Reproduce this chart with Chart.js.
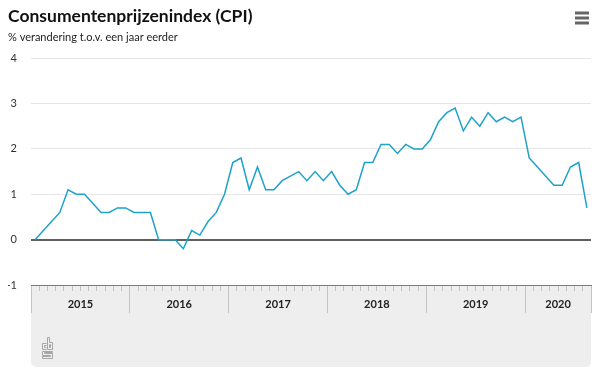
<!DOCTYPE html>
<html>
<head>
<meta charset="utf-8">
<script src="https://cdn.jsdelivr.net/npm/chart.js@4.4.1/dist/chart.umd.min.js"></script>
<style>
    html, body { margin: 0; padding: 0; background: #fff; }
    #wrap { width: 600px; height: 390px; }
</style>
</head>
<body>
<div id="wrap"><canvas id="grafiek" width="600" height="390"></canvas></div>
<script>
const jaren = ['2015', '2016', '2017', '2018', '2019', '2020'];
const maanden = ['jan', 'feb', 'mrt', 'apr', 'mei', 'jun', 'jul', 'aug', 'sep', 'okt', 'nov', 'dec'];

// CPI, % verandering t.o.v. een jaar eerder
const cpi2015 = [0.0, 0.2, 0.4, 0.6, 1.1, 1.0, 1.0, 0.8, 0.6, 0.6, 0.7, 0.7];
const cpi2016 = [0.6, 0.6, 0.6, 0.0, 0.0, 0.0, -0.2, 0.2, 0.1, 0.4, 0.6, 1.0];
const cpi2017 = [1.7, 1.8, 1.1, 1.6, 1.1, 1.1, 1.3, 1.4, 1.5, 1.3, 1.5, 1.3];
const cpi2018 = [1.5, 1.2, 1.0, 1.1, 1.7, 1.7, 2.1, 2.1, 1.9, 2.1, 2.0, 2.0];
const cpi2019 = [2.2, 2.6, 2.8, 2.9, 2.4, 2.7, 2.5, 2.8, 2.6, 2.7, 2.6, 2.7];
const cpi2020 = [1.8, 1.6, 1.4, 1.2, 1.2, 1.6, 1.7, 0.7];

const yTicks = [-1, 0, 1, 2, 3, 4];

const perJaar = [cpi2015, cpi2016, cpi2017, cpi2018, cpi2019, cpi2020];
const etiquetas = [];
const waarden = [];
perJaar.forEach((reeks, j) => {
    reeks.forEach((v, m) => {
        etiquetas.push(maanden[m] + ' ' + jaren[j]);
        waarden.push(v);
    });
});

// grenzen en middens van de jaarbanden (in maanden vanaf jan 2015)
const jaarGrenzen = [];
const jaarMiddens = [];
let start = 0;
perJaar.forEach((reeks) => {
    jaarGrenzen.push(start);
    jaarMiddens.push(start + reeks.length / 2);
    start += reeks.length;
});
jaarGrenzen.push(start);

const fontFam = 'Lato, "Open Sans", sans-serif';

const achtergrond = {
    id: 'achtergrond',
    beforeDraw(chart) {
        const { ctx, chartArea } = chart;
        const x = chartArea.left, y = chartArea.bottom;
        const w = chartArea.right - chartArea.left, h = 82, r = 6;
        ctx.save();
        ctx.fillStyle = '#eeeeee';
        ctx.beginPath();
        ctx.moveTo(x, y);
        ctx.lineTo(x + w, y);
        ctx.lineTo(x + w, y + h - r);
        ctx.quadraticCurveTo(x + w, y + h, x + w - r, y + h);
        ctx.lineTo(x + r, y + h);
        ctx.quadraticCurveTo(x, y + h, x, y + h - r);
        ctx.closePath();
        ctx.fill();
        ctx.restore();
    },
    afterDraw(chart) {
        const { ctx, chartArea } = chart;
        ctx.save();
        // menu-knop
        ctx.strokeStyle = '#666';
        ctx.lineWidth = 3;
        [13, 18, 23].forEach(yy => {
            ctx.beginPath();
            ctx.moveTo(575, yy);
            ctx.lineTo(589, yy);
            ctx.stroke();
        });
        // cbs logo
        const lx = chartArea.left + 11, ly = chartArea.bottom + 52;
        ctx.strokeStyle = '#a6a6a6';
        ctx.lineWidth = 1;
        ctx.beginPath();
        // c
        ctx.moveTo(lx + 4.5, ly + 6.5); ctx.lineTo(lx + 0.5, ly + 6.5);
        ctx.lineTo(lx + 0.5, ly + 12.5); ctx.lineTo(lx + 4.5, ly + 12.5);
        ctx.moveTo(lx + 4.5, ly + 8.5); ctx.lineTo(lx + 2.5, ly + 8.5);
        ctx.lineTo(lx + 2.5, ly + 10.5); ctx.lineTo(lx + 4.5, ly + 10.5);
        // b
        ctx.moveTo(lx + 5.5, ly + 0.5); ctx.lineTo(lx + 5.5, ly + 12.5);
        ctx.lineTo(lx + 10.5, ly + 12.5); ctx.lineTo(lx + 10.5, ly + 5.5);
        ctx.lineTo(lx + 7.5, ly + 5.5); ctx.lineTo(lx + 7.5, ly + 0.5);
        ctx.closePath();
        ctx.rect(lx + 7.5, ly + 7.5, 1, 3);
        // s
        ctx.moveTo(lx + 10.5, ly + 14.5); ctx.lineTo(lx + 0.5, ly + 14.5);
        ctx.lineTo(lx + 0.5, ly + 18.5); ctx.lineTo(lx + 8.5, ly + 18.5);
        ctx.lineTo(lx + 8.5, ly + 19.5); ctx.lineTo(lx + 0.5, ly + 19.5);
        ctx.lineTo(lx + 0.5, ly + 21.5); ctx.lineTo(lx + 10.5, ly + 21.5);
        ctx.lineTo(lx + 10.5, ly + 16.5); ctx.lineTo(lx + 2.5, ly + 16.5);
        ctx.lineTo(lx + 2.5, ly + 15.5); ctx.lineTo(lx + 10.5, ly + 15.5);
        ctx.closePath();
        ctx.stroke();
        ctx.restore();
    }
};

new Chart(document.getElementById('grafiek').getContext('2d'), {
    type: 'line',
    data: {
        labels: etiquetas,
        datasets: [{
            label: 'CPI',
            data: waarden,
            borderColor: '#1ea2c9',
            borderWidth: 1.5,
            pointRadius: 0,
            tension: 0,
            fill: false
        }]
    },
    options: {
        responsive: false,
        animation: false,
        layout: { padding: { left: 8, right: 9, top: 0, bottom: 23 } },
        plugins: {
            legend: { display: false },
            tooltip: { enabled: false },
            title: {
                display: true,
                text: 'Consumentenprijzenindex (CPI)',
                align: 'start',
                color: '#111',
                font: { family: fontFam, size: 17.5, weight: 'bold' },
                padding: { top: 6, bottom: 4 }
            },
            subtitle: {
                display: true,
                text: '% verandering t.o.v. een jaar eerder',
                align: 'start',
                color: '#222',
                font: { family: fontFam, size: 11 },
                padding: { top: 0, bottom: 14 }
            }
        },
        scales: {
            x: {
                type: 'category',
                offset: true,
                grid: {
                    offset: true,
                    drawOnChartArea: false,
                    drawTicks: true,
                    tickLength: 6,
                    tickColor: '#c4c4c4'
                },
                border: { display: true, color: '#7a7a7a', width: 1 },
                ticks: { display: false, autoSkip: false },
                afterFit(scale) { scale.height = 6; }
            },
            jaar: {
                type: 'linear',
                position: 'bottom',
                weight: 1,
                min: 0,
                max: jaarGrenzen[jaarGrenzen.length - 1],
                afterBuildTicks(scale) {
                    const t = jaarGrenzen.map(v => ({ value: v }))
                        .concat(jaarMiddens.map(v => ({ value: v })));
                    t.sort((a, b) => a.value - b.value);
                    scale.ticks = t;
                },
                grid: {
                    drawOnChartArea: false,
                    drawTicks: true,
                    tickLength: 22,
                    tickColor: (c) => jaarGrenzen.includes(c.tick.value) ? '#c4c4c4' : 'rgba(0,0,0,0)'
                },
                border: { display: false },
                ticks: {
                    autoSkip: false,
                    maxRotation: 0,
                    padding: -15,
                    color: '#222',
                    font: { family: fontFam, size: 11, weight: 'bold' },
                    callback: (v) => {
                        const i = jaarMiddens.indexOf(v);
                        return i >= 0 ? jaren[i] : '';
                    }
                },
                afterFit(scale) { scale.height = 76; }
            },
            y: {
                min: yTicks[0],
                max: yTicks[yTicks.length - 1],
                afterBuildTicks(scale) {
                    scale.ticks = yTicks.map(v => ({ value: v }));
                },
                grid: {
                    drawTicks: false,
                    color: (c) => c.tick.value === 0 ? '#606060' : (c.tick.value === -1 ? 'rgba(0,0,0,0)' : '#e6e6e6'),
                    lineWidth: (c) => c.tick.value === 0 ? 2 : 1
                },
                border: { display: false },
                ticks: {
                    padding: 14,
                    color: '#333',
                    font: { family: fontFam, size: 11 }
                },
                afterFit(scale) { scale.width = 23; }
            }
        }
    },
    plugins: [achtergrond]
});
</script>
</body>
</html>
